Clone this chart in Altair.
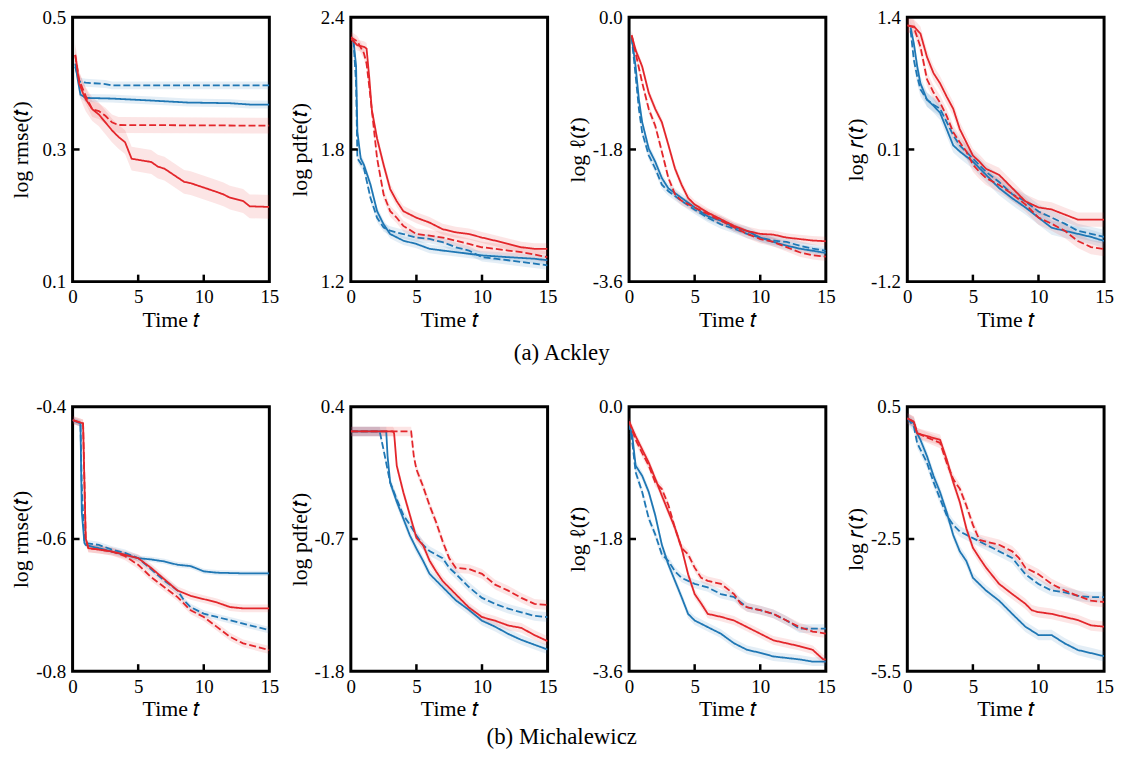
import altair as alt
import pandas as pd

BLUE = "#1f77b4"
RED = "#e3262b"
FONT = "Liberation Serif"
W, H = 198, 266

# ---------------- (a) Ackley ----------------
ack_rmse_bs_t = [0.2, 0.4, 0.6, 1.0, 3.0, 4.0, 6.0, 8.8, 12.0, 13.5, 15]
ack_rmse_bs_v = [0.430, 0.405, 0.383, 0.378, 0.377, 0.376, 0.374, 0.371, 0.370, 0.368, 0.368]
ack_rmse_bd_t = [0.2, 0.5, 1.0, 2.5, 3.0, 15]
ack_rmse_bd_v = [0.425, 0.403, 0.401, 0.399, 0.397, 0.397]
ack_rmse_rs_t = [0.2, 0.3, 0.5, 0.8, 1.0, 1.5, 2.0, 2.5, 3.0, 3.5, 4.0, 4.5, 6.0, 6.5, 7.0, 8.5, 9.0, 10.8, 11.5, 12.0, 13.0, 13.5, 15]
ack_rmse_rs_v = [0.443, 0.430, 0.400, 0.385, 0.376, 0.361, 0.353, 0.341, 0.329, 0.319, 0.311, 0.286, 0.281, 0.274, 0.271, 0.251, 0.249, 0.237, 0.232, 0.227, 0.222, 0.214, 0.213]
ack_rmse_rd_t = [0.2, 0.5, 1.0, 1.5, 2.0, 2.5, 3.0, 3.5, 15]
ack_rmse_rd_v = [0.443, 0.405, 0.381, 0.361, 0.358, 0.351, 0.341, 0.337, 0.336]
ack_rmse_spread = [0.006, 0.006, 0.018, 0.012]

ack_pdfe_bs_t = [0.2, 0.4, 0.5, 0.75, 1, 1.5, 2, 2.5, 3, 4, 5, 6, 7, 8, 10, 12, 14, 15]
ack_pdfe_bs_v = [2.296, 2.18, 1.88, 1.76, 1.73, 1.64, 1.52, 1.46, 1.416, 1.386, 1.371, 1.349, 1.341, 1.334, 1.319, 1.311, 1.304, 1.297]
ack_pdfe_bd_t = [0.2, 0.4, 0.5, 1, 1.5, 2, 2.5, 3, 4, 5, 6, 7, 8, 9, 10, 11, 12, 13, 14, 15]
ack_pdfe_bd_v = [2.296, 2.10, 1.76, 1.714, 1.58, 1.49, 1.446, 1.431, 1.416, 1.40, 1.394, 1.379, 1.356, 1.341, 1.311, 1.304, 1.297, 1.289, 1.282, 1.274]
ack_pdfe_rs_t = [0, 0.5, 1, 1.2, 1.4, 1.6, 2, 2.5, 3, 3.5, 4, 5, 6, 7, 8, 9, 10, 11, 12, 13, 14, 15]
ack_pdfe_rs_v = [2.303, 2.273, 2.266, 2.258, 2.13, 1.98, 1.85, 1.73, 1.62, 1.565, 1.52, 1.49, 1.468, 1.438, 1.424, 1.416, 1.40, 1.386, 1.371, 1.356, 1.349, 1.349]
ack_pdfe_rd_t = [0, 0.5, 1, 1.2, 1.4, 1.6, 2, 2.5, 3, 3.5, 4, 5, 6, 7, 8, 9, 10, 11, 12, 13, 14, 15]
ack_pdfe_rd_v = [2.31, 2.29, 2.236, 2.19, 2.087, 1.98, 1.76, 1.595, 1.52, 1.49, 1.453, 1.416, 1.409, 1.40, 1.386, 1.371, 1.356, 1.349, 1.341, 1.334, 1.323, 1.311]
ack_pdfe_spread = [0.02, 0.02, 0.025, 0.025]

ack_ell_bs_t = [0.2, 0.5, 0.75, 1, 1.5, 2, 2.5, 3, 4, 5, 6, 7, 8, 9, 10, 11, 12, 13, 14, 15]
ack_ell_bs_v = [-0.27, -0.67, -1.12, -1.43, -1.79, -1.97, -2.19, -2.33, -2.46, -2.59, -2.71, -2.77, -2.86, -2.91, -3.00, -3.06, -3.11, -3.15, -3.18, -3.21]
ack_ell_bd_t = [0.2, 0.5, 0.75, 1, 1.5, 2, 2.5, 3, 4, 5, 6, 7, 8, 9, 10, 11, 12, 13, 14, 15]
ack_ell_bd_v = [-0.27, -0.80, -1.25, -1.57, -1.88, -2.06, -2.28, -2.37, -2.50, -2.62, -2.73, -2.82, -2.88, -2.95, -3.00, -3.04, -3.06, -3.11, -3.15, -3.18]
ack_ell_rs_t = [0.2, 0.5, 1, 1.5, 2, 2.5, 3, 3.5, 4, 4.5, 5, 6, 7, 8, 9, 10, 11, 12, 13, 14, 15]
ack_ell_rs_v = [-0.246, -0.447, -0.671, -1.03, -1.25, -1.43, -1.74, -2.06, -2.28, -2.46, -2.55, -2.66, -2.75, -2.84, -2.91, -2.95, -2.96, -3.00, -3.02, -3.04, -3.05]
ack_ell_rd_t = [0.2, 0.5, 1, 1.5, 2, 2.5, 3, 3.5, 4, 5, 6, 7, 8, 9, 10, 11, 12, 13, 14, 15]
ack_ell_rd_v = [-0.246, -0.49, -0.89, -1.25, -1.48, -1.83, -2.19, -2.41, -2.50, -2.59, -2.68, -2.77, -2.86, -2.95, -3.02, -3.06, -3.13, -3.20, -3.24, -3.26]
ack_ell_spread = [0.06, 0.06, 0.06, 0.06]

ack_r_b_t = [0.25, 0.5, 0.75, 1, 1.5, 2, 2.5, 3, 3.5, 4, 5, 6, 7, 8, 9, 10, 11, 12, 13, 14, 15]
ack_r_bs_v = [1.30, 1.14, 0.92, 0.75, 0.59, 0.53, 0.46, 0.30, 0.14, 0.08, -0.02, -0.15, -0.28, -0.38, -0.47, -0.57, -0.67, -0.70, -0.73, -0.76, -0.80]
ack_r_bd_v = [1.27, 0.98, 0.82, 0.69, 0.59, 0.54, 0.50, 0.37, 0.24, 0.14, 0.01, -0.12, -0.22, -0.34, -0.41, -0.51, -0.57, -0.63, -0.70, -0.73, -0.76]
ack_r_r_t = [0, 0.5, 1, 1.5, 2, 2.5, 3, 3.5, 4, 4.5, 5, 5.5, 6, 7, 8, 9, 10, 11, 12, 13, 14, 15]
ack_r_rs_v = [1.32, 1.31, 1.24, 1.01, 0.85, 0.75, 0.62, 0.50, 0.30, 0.17, 0.04, -0.02, -0.09, -0.15, -0.28, -0.41, -0.47, -0.49, -0.54, -0.59, -0.59, -0.59]
ack_r_rd_v = [1.32, 1.30, 1.11, 0.79, 0.66, 0.56, 0.43, 0.27, 0.17, 0.08, -0.05, -0.12, -0.18, -0.25, -0.34, -0.44, -0.57, -0.63, -0.70, -0.80, -0.86, -0.88]
ack_r_spread = [0.07, 0.07, 0.07, 0.07]

# ---------------- (b) Michalewicz ----------------
mic_rmse_bs_t = [0, 0.6, 0.7, 0.9, 1, 2, 3, 4, 5, 6, 7, 8, 9, 10, 11, 13, 15]
mic_rmse_bs_v = [-0.420, -0.425, -0.559, -0.606, -0.609, -0.614, -0.619, -0.624, -0.629, -0.631, -0.634, -0.639, -0.641, -0.649, -0.651, -0.652, -0.652]
mic_rmse_bd_t = [0, 0.6, 0.7, 0.9, 1, 2, 3, 4, 5, 6, 7, 8, 8.5, 9, 10, 11, 12, 13, 14, 15]
mic_rmse_bd_v = [-0.420, -0.425, -0.520, -0.604, -0.606, -0.609, -0.616, -0.621, -0.629, -0.646, -0.663, -0.678, -0.693, -0.703, -0.713, -0.718, -0.723, -0.728, -0.733, -0.738]
mic_rmse_rs_t = [0, 0.8, 1.0, 1.2, 2, 3, 4, 5, 6, 7, 8, 9, 10, 11, 12, 13, 15]
mic_rmse_rs_v = [-0.420, -0.425, -0.599, -0.614, -0.616, -0.619, -0.624, -0.629, -0.644, -0.661, -0.678, -0.686, -0.691, -0.696, -0.703, -0.705, -0.705]
mic_rmse_rd_t = [0, 0.8, 1.0, 1.2, 2, 3, 4, 5, 6, 7, 8, 9, 10, 11, 12, 13, 14, 15]
mic_rmse_rd_v = [-0.420, -0.425, -0.599, -0.614, -0.616, -0.619, -0.626, -0.639, -0.658, -0.673, -0.688, -0.708, -0.718, -0.733, -0.748, -0.758, -0.763, -0.768]
mic_rmse_spread = [0.004, 0.005, 0.006, 0.006]

mic_pdfe_bs_t = [0, 2.7, 2.8, 3, 3.5, 4, 4.5, 5, 5.5, 6, 7, 8, 9, 10, 11, 12, 13, 14, 15]
mic_pdfe_bs_v = [0.195, 0.195, -0.01, -0.23, -0.39, -0.53, -0.67, -0.78, -0.88, -0.99, -1.10, -1.21, -1.29, -1.38, -1.43, -1.49, -1.54, -1.58, -1.62]
mic_pdfe_bd_t = [0, 2.2, 2.5, 3, 3.5, 4, 4.5, 5, 5.5, 6, 7, 7.5, 8, 9, 10, 11, 12, 13, 14, 15]
mic_pdfe_bd_v = [0.195, 0.195, 0.04, -0.23, -0.37, -0.50, -0.58, -0.67, -0.75, -0.80, -0.86, -0.94, -0.99, -1.10, -1.19, -1.24, -1.28, -1.31, -1.34, -1.35]
mic_pdfe_rs_t = [0, 3.2, 3.3, 3.5, 4, 4.5, 5, 5.5, 6, 6.5, 7, 8, 9, 10, 11, 12, 13, 14, 15]
mic_pdfe_rs_v = [0.195, 0.195, 0.18, -0.09, -0.31, -0.50, -0.69, -0.75, -0.88, -0.97, -1.05, -1.16, -1.27, -1.35, -1.38, -1.42, -1.44, -1.50, -1.55]
mic_pdfe_rd_t = [0, 4.6, 4.8, 5, 5.5, 6, 6.5, 7, 7.5, 8, 9, 10, 11, 12, 13, 14, 15]
mic_pdfe_rd_v = [0.195, 0.195, -0.01, -0.12, -0.26, -0.42, -0.56, -0.72, -0.86, -0.94, -0.95, -0.99, -1.08, -1.13, -1.19, -1.24, -1.25]
mic_pdfe_spread = [0.04, 0.04, 0.04, 0.04]

mic_ell_bs_t = [0, 0.25, 0.5, 1, 1.5, 2, 2.5, 3, 3.5, 4, 4.5, 5, 6, 7, 8, 9, 10, 11, 12, 13, 14, 15]
mic_ell_bs_v = [-0.22, -0.40, -0.80, -0.94, -1.16, -1.48, -1.88, -2.15, -2.37, -2.59, -2.82, -2.91, -3.00, -3.09, -3.22, -3.31, -3.35, -3.40, -3.42, -3.44, -3.47, -3.47]
mic_ell_bd_t = [0, 0.25, 0.5, 1, 1.5, 2, 2.5, 3, 3.5, 4, 5, 6, 7, 8, 9, 10, 11, 12, 13, 15]
mic_ell_bd_v = [-0.22, -0.49, -0.89, -1.16, -1.52, -1.74, -2.01, -2.10, -2.24, -2.33, -2.41, -2.46, -2.55, -2.59, -2.73, -2.77, -2.82, -2.91, -3.02, -3.02]
mic_ell_rs_t = [0, 0.5, 1, 1.5, 2, 2.5, 3, 3.5, 4, 4.5, 5, 5.5, 6, 7, 8, 9, 10, 11, 12, 13, 14, 14.8, 15]
mic_ell_rs_v = [-0.20, -0.40, -0.58, -0.76, -0.98, -1.21, -1.43, -1.65, -1.92, -2.28, -2.55, -2.68, -2.82, -2.86, -2.91, -3.00, -3.09, -3.18, -3.22, -3.26, -3.31, -3.44, -3.44]
mic_ell_rd_t = [0, 0.5, 1, 1.5, 2, 2.5, 3, 3.5, 4, 4.5, 5, 5.5, 6, 7, 8, 8.5, 9, 10, 11, 12, 13, 14, 15]
mic_ell_rd_v = [-0.20, -0.45, -0.63, -0.80, -1.03, -1.12, -1.34, -1.65, -1.92, -2.01, -2.19, -2.33, -2.37, -2.41, -2.55, -2.68, -2.73, -2.77, -2.82, -2.91, -3.00, -3.06, -3.09]
mic_ell_spread = [0.06, 0.06, 0.06, 0.06]

mic_r_bs_t = [0, 0.5, 0.75, 1, 1.5, 2, 2.5, 3, 3.5, 4, 4.5, 5, 6, 7, 8, 9, 10, 11, 12, 13, 14, 15]
mic_r_bs_v = [0.24, 0.13, -0.10, -0.25, -0.62, -1.07, -1.44, -1.89, -2.41, -2.78, -3.00, -3.38, -3.67, -3.90, -4.20, -4.49, -4.68, -4.68, -4.87, -5.02, -5.09, -5.16]
mic_r_bd_t = [0, 0.5, 0.75, 1, 1.5, 2, 2.5, 3, 3.5, 4, 5, 6, 7, 8, 9, 10, 11, 12, 13, 14, 15]
mic_r_bd_v = [0.24, 0.05, -0.32, -0.47, -0.77, -1.21, -1.59, -1.96, -2.18, -2.33, -2.48, -2.63, -2.78, -2.93, -3.30, -3.52, -3.67, -3.71, -3.79, -3.82, -3.82]
mic_r_rs_t = [0, 0.5, 0.75, 2.5, 3, 3.5, 4, 4.5, 5, 5.5, 6, 7, 8, 9, 9.5, 10, 11, 12, 13, 14, 15]
mic_r_rs_v = [0.24, 0.16, -0.10, -0.25, -0.69, -1.21, -1.66, -2.26, -2.70, -2.93, -3.15, -3.52, -3.75, -3.97, -4.12, -4.16, -4.20, -4.27, -4.34, -4.46, -4.49]
mic_r_rd_t = [0, 0.5, 0.75, 2.5, 3, 3.5, 4, 4.5, 5, 5.5, 6, 7, 8, 8.5, 9, 10, 11, 12, 13, 14, 15]
mic_r_rd_v = [0.24, 0.16, -0.10, -0.32, -0.77, -1.14, -1.36, -1.74, -2.18, -2.52, -2.56, -2.63, -2.78, -2.93, -3.15, -3.30, -3.52, -3.67, -3.79, -3.90, -3.93]
mic_r_spread = [0.12, 0.12, 0.12, 0.12]

X_TICKS = [0, 5, 10, 15]
X_INNER_TICKS = [5, 10]

SERIES = ["bs", "bd", "rs", "rd"]
METHOD = {"bs": "blue", "bd": "blue", "rs": "red", "rd": "red"}
STYLE = {"bs": "solid", "bd": "dashed", "rs": "solid", "rd": "dashed"}

ROW_A = [
    ("log rmse(𝑡)", [0.1, 0.3, 0.5],
     [(ack_rmse_bs_t, ack_rmse_bs_v), (ack_rmse_bd_t, ack_rmse_bd_v),
      (ack_rmse_rs_t, ack_rmse_rs_v), (ack_rmse_rd_t, ack_rmse_rd_v)], ack_rmse_spread),
    ("log pdfe(𝑡)", [1.2, 1.8, 2.4],
     [(ack_pdfe_bs_t, ack_pdfe_bs_v), (ack_pdfe_bd_t, ack_pdfe_bd_v),
      (ack_pdfe_rs_t, ack_pdfe_rs_v), (ack_pdfe_rd_t, ack_pdfe_rd_v)], ack_pdfe_spread),
    ("log ℓ(𝑡)", [-3.6, -1.8, 0.0],
     [(ack_ell_bs_t, ack_ell_bs_v), (ack_ell_bd_t, ack_ell_bd_v),
      (ack_ell_rs_t, ack_ell_rs_v), (ack_ell_rd_t, ack_ell_rd_v)], ack_ell_spread),
    ("log 𝑟(𝑡)", [-1.2, 0.1, 1.4],
     [(ack_r_b_t, ack_r_bs_v), (ack_r_b_t, ack_r_bd_v),
      (ack_r_r_t, ack_r_rs_v), (ack_r_r_t, ack_r_rd_v)], ack_r_spread),
]
ROW_B = [
    ("log rmse(𝑡)", [-0.8, -0.6, -0.4],
     [(mic_rmse_bs_t, mic_rmse_bs_v), (mic_rmse_bd_t, mic_rmse_bd_v),
      (mic_rmse_rs_t, mic_rmse_rs_v), (mic_rmse_rd_t, mic_rmse_rd_v)], mic_rmse_spread),
    ("log pdfe(𝑡)", [-1.8, -0.7, 0.4],
     [(mic_pdfe_bs_t, mic_pdfe_bs_v), (mic_pdfe_bd_t, mic_pdfe_bd_v),
      (mic_pdfe_rs_t, mic_pdfe_rs_v), (mic_pdfe_rd_t, mic_pdfe_rd_v)], mic_pdfe_spread),
    ("log ℓ(𝑡)", [-3.6, -1.8, 0.0],
     [(mic_ell_bs_t, mic_ell_bs_v), (mic_ell_bd_t, mic_ell_bd_v),
      (mic_ell_rs_t, mic_ell_rs_v), (mic_ell_rd_t, mic_ell_rd_v)], mic_ell_spread),
    ("log 𝑟(𝑡)", [-5.5, -2.5, 0.5],
     [(mic_r_bs_t, mic_r_bs_v), (mic_r_bd_t, mic_r_bd_v),
      (mic_r_rs_t, mic_r_rs_v), (mic_r_rd_t, mic_r_rd_v)], mic_r_spread),
]

LABEL_EXPR = "datum.value < 0 ? '-' + format(-datum.value, '.1f') : format(datum.value, '.1f')"
AXIS_STYLE = dict(labelFont=FONT, titleFont=FONT, labelFontSize=19, titleFontSize=22,
                  titleFontWeight="normal", labelColor="black", titleColor="black",
                  labelFlush=False, labelOverlap=False, domain=False, ticks=False, grid=False)


def panel(title, yticks, series, spreads):
    rows = []
    for name, (ts, vs), s in zip(SERIES, series, spreads):
        for t, v in zip(ts, vs):
            rows.append({"series": name, "method": METHOD[name], "style": STYLE[name],
                         "t": t, "v": v, "lo": v - s, "hi": v + s})
    df = pd.DataFrame(rows)
    xs = alt.Scale(domain=[0, 15], nice=False, zero=False)
    ys = alt.Scale(domain=[yticks[0], yticks[-1]], nice=False, zero=False)
    xaxis = alt.Axis(values=X_TICKS, title="Time 𝑡", format="d", labelPadding=6,
                     titlePadding=3, **AXIS_STYLE)
    yaxis = alt.Axis(values=yticks, title=title, labelExpr=LABEL_EXPR, labelPadding=7,
                     minExtent=33, maxExtent=33, titlePadding=7, **AXIS_STYLE)
    cscale = alt.Scale(domain=["blue", "red"], range=[BLUE, RED])
    dscale = alt.Scale(domain=["solid", "dashed"], range=[[1, 0], [7, 3]])
    base = alt.Chart(df)
    band = base.mark_area(opacity=0.12, clip=True).encode(
        x=alt.X("t:Q", scale=xs, axis=xaxis),
        y=alt.Y("lo:Q", scale=ys, axis=yaxis),
        y2="hi:Q",
        color=alt.Color("method:N", scale=cscale, legend=None),
        detail="series:N",
    )
    line = base.mark_line(strokeWidth=1.8, clip=True).encode(
        x=alt.X("t:Q", scale=xs, axis=xaxis),
        y=alt.Y("v:Q", scale=ys, axis=yaxis),
        color=alt.Color("method:N", scale=cscale, legend=None),
        strokeDash=alt.StrokeDash("style:N", scale=dscale, legend=None),
        detail="series:N",
    )
    tx = alt.Chart(pd.DataFrame({"tx": X_INNER_TICKS})).mark_rule(
        color="black", strokeWidth=2.5).encode(
        x=alt.X("tx:Q", scale=xs, axis=xaxis), y=alt.value(H), y2=alt.value(H - 7))
    ty = alt.Chart(pd.DataFrame({"ty": [yticks[1]]})).mark_rule(
        color="black", strokeWidth=2.5).encode(
        y=alt.Y("ty:Q", scale=ys, axis=yaxis), x=alt.value(0), x2=alt.value(7))
    return alt.layer(band, line, tx, ty).properties(width=W, height=H)


def caption(text, offset):
    return alt.TitleParams(text, orient="bottom", anchor="middle", font=FONT,
                           fontSize=23, fontWeight="normal", color="black", offset=offset)


row_a = alt.hconcat(*[panel(*p) for p in ROW_A], spacing=6).properties(
    title=caption("(a) Ackley", 10))
row_b = alt.hconcat(*[panel(*p) for p in ROW_B], spacing=6).properties(
    title=caption("(b) Michalewicz", 5))

chart = alt.vconcat(row_a, row_b, spacing=31).properties(
    background="white",
    padding={"left": 0, "top": -4, "right": 0, "bottom": 0},
).configure_view(
    stroke="black", strokeWidth=3
)

chart.save("out.html", embed_options={"renderer": "svg", "actions": False})
